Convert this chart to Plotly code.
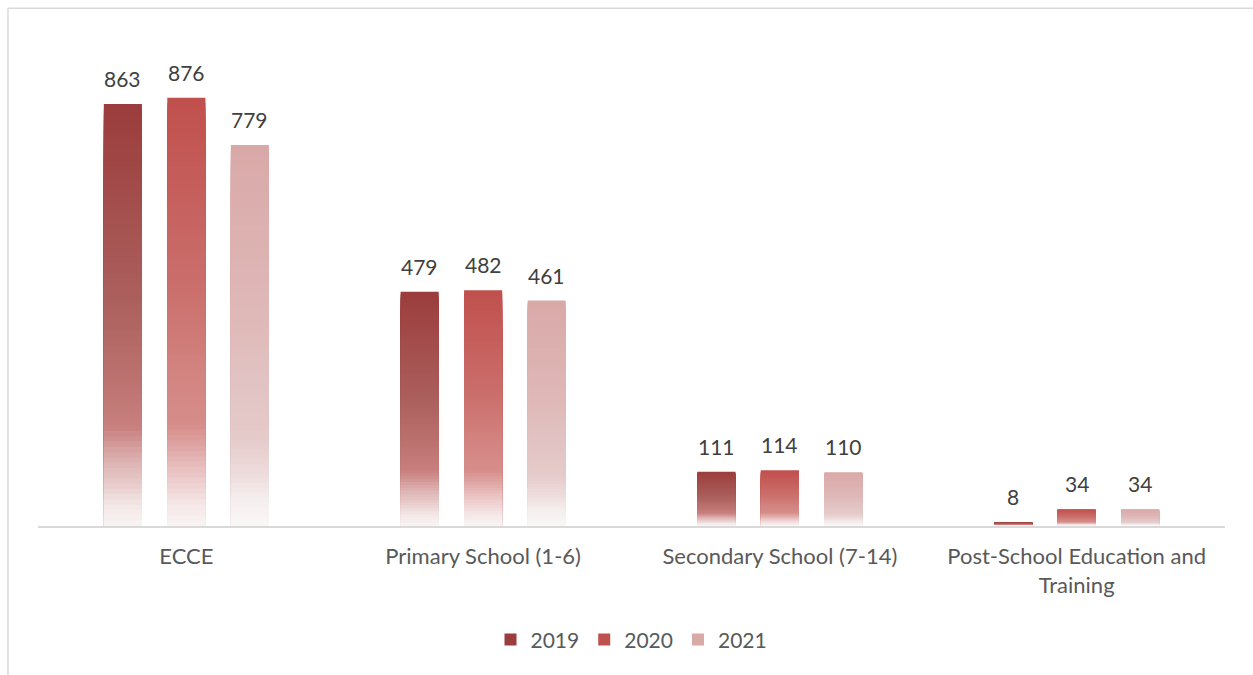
import plotly.graph_objects as go

categories = ["ECCE", "Primary School (1-6)", "Secondary School (7-14)", "Post-School Education and<br>Training"]
years = ["2019", "2020", "2021"]
values_2019 = [863, 479, 111, 8]
values_2020 = [876, 482, 114, 34]
values_2021 = [779, 461, 110, 34]
series = [values_2019, values_2020, values_2021]

# gradient stops (fraction from top, rgb)
stops = {
    "2019": [(0, (155, 61, 60)), (0.45, (171, 95, 93)), (0.65, (188, 115, 112)), (0.76, (200, 128, 126)),
             (0.84, (221, 178, 178)), (0.90, (234, 206, 206)), (0.95, (244, 233, 233)), (1.0, (250, 245, 245))],
    "2020": [(0, (192, 80, 77)), (0.45, (203, 112, 109)), (0.66, (211, 134, 131)), (0.76, (214, 142, 139)),
             (0.84, (228, 182, 181)), (0.90, (239, 211, 211)), (0.95, (246, 233, 233)), (1.0, (250, 245, 245))],
    "2021": [(0, (217, 169, 168)), (0.45, (223, 185, 184)), (0.62, (226, 195, 195)), (0.76, (229, 202, 202)),
             (0.85, (237, 218, 218)), (0.92, (245, 237, 237)), (1.0, (251, 248, 248))],
}


def grad(year, t):
    s = stops[year]
    for (t0, c0), (t1, c1) in zip(s[:-1], s[1:]):
        if t0 <= t <= t1:
            f = 0 if t1 == t0 else (t - t0) / (t1 - t0)
            c = [round(a + (b - a) * f) for a, b in zip(c0, c1)]
            return "rgb(%d,%d,%d)" % tuple(c)
    return "rgb(%d,%d,%d)" % s[-1][1]


N = 80
fig = go.Figure()
for yi, (year, vals) in enumerate(zip(years, series)):
    for k in range(N):
        frac = 1 - k / N
        fig.add_trace(go.Bar(
            x=categories, y=[v * frac for v in vals],
            name=year, legendgroup=year, showlegend=(k == 0),
            offsetgroup=year,
            marker=dict(color=grad(year, k / N), line=dict(width=0)),
            hoverinfo="skip" if k else None,
        ))

offsets = [-63.5, 0, 63.5]
for yi, vals in enumerate(series):
    for c, v in zip(categories, vals):
        fig.add_annotation(x=c, y=v, text=str(v), showarrow=False, xshift=offsets[yi], yshift=11,
                           yanchor="bottom", font=dict(size=21, color="#404040"))

fig.add_shape(type="line", xref="paper", yref="paper", x0=-0.0253, x1=-0.0253, y0=-0.4, y1=1.059,
              line=dict(color="#D9D9D9", width=1.5))
fig.add_shape(type="line", xref="paper", yref="paper", x0=-0.0253, x1=1.1, y0=1.059, y1=1.059,
              line=dict(color="#D9D9D9", width=1.5))

fig.update_layout(
    width=1253, height=675,
    margin=dict(l=38, r=28, t=37, b=149),
    plot_bgcolor="white", paper_bgcolor="white",
    barmode="group", bargap=0.358, bargroupgap=0.40,
    font=dict(family="Lato, Open Sans, sans-serif", size=21, color="#595959"),
    showlegend=True,
    legend=dict(orientation="h", x=0.5, xanchor="center", y=-0.233, yanchor="middle",
                font=dict(size=21, color="#595959"), itemwidth=30),
    xaxis=dict(showline=True, linecolor="#D9D9D9", linewidth=1.5, ticks="", showgrid=False,
               tickfont=dict(size=22, color="#595959"), ticklabelstandoff=10),
    yaxis=dict(range=[0, 1000], visible=False, showgrid=False),
)

fig.write_html("out.html")
